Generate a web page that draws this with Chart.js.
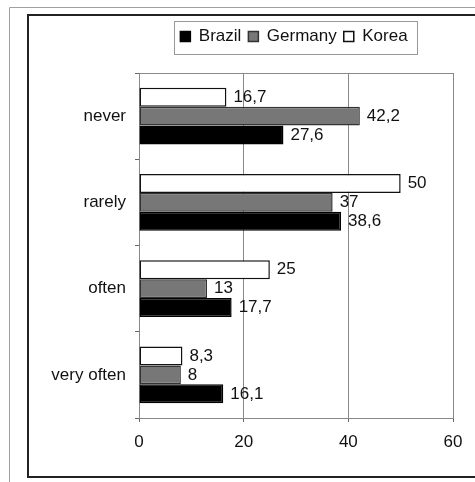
<!DOCTYPE html>
<html>
<head>
<meta charset="utf-8">
<script src="https://cdn.jsdelivr.net/npm/chart.js@4.4.0/dist/chart.umd.min.js"></script>
<style>
  html, body { margin: 0; padding: 0; background: #fff; }
  canvas { display: block; }
</style>
</head>
<body>
<canvas id="myChart" width="475" height="482"></canvas>
<script>
// data
const categories = ['never', 'rarely', 'often', 'very often'];
const brazil  = [27.6, 38.6, 17.7, 16.1];
const germany = [42.2, 37, 13, 8];
const korea   = [16.7, 50, 25, 8.3];
const xTicks  = [0, 20, 40, 60];

Chart.defaults.font.family = "'Liberation Sans', Arial, sans-serif";
Chart.defaults.font.size = 17;
Chart.defaults.color = '#111';

const fmt = v => String(v).replace('.', ',');

// frames around the whole figure
const framePlugin = {
  id: 'frame',
  beforeDraw(chart) {
    const c = chart.ctx;
    c.save();
    c.fillStyle = '#fff';
    c.fillRect(0, 0, chart.width, chart.height);
    c.strokeStyle = '#a0a0a0';
    c.lineWidth = 1;
    c.beginPath();
    c.moveTo(9.5, chart.height); c.lineTo(9.5, 7.5); c.lineTo(chart.width, 7.5);
    c.stroke();
    c.strokeStyle = '#222';
    c.lineWidth = 2;
    c.beginPath();
    c.moveTo(chart.width, 15); c.lineTo(28, 15); c.lineTo(28, 477); c.lineTo(chart.width, 477);
    c.stroke();
    c.restore();
  },
  beforeDatasetsDraw(chart) {
    const a = chart.chartArea, c = chart.ctx;
    c.save();
    c.strokeStyle = '#888';
    c.lineWidth = 1;
    c.strokeRect(Math.round(a.left) + 0.5, Math.round(a.top) + 0.5, a.right - a.left, a.bottom - a.top);
    c.restore();
  }
};

// move legend over the plot and box it
const legendPlugin = {
  id: 'legendBox',
  afterLayout(chart) {
    const lg = chart.legend;
    const h = lg.bottom - lg.top;
    const shift = 294 - (lg.left + lg.right) / 2;
    lg.left += shift; lg.right += shift;
    lg.top = 21; lg.bottom = 21 + h;
  },
  afterDraw(chart) {
    const lg = chart.legend, c = chart.ctx;
    const pad = lg.options.labels.padding;
    const lw = lg.lineWidths[0];
    const start = (lg.left + pad + lg.right - lw) / 2;
    c.save();
    c.strokeStyle = '#999';
    c.lineWidth = 1;
    c.strokeRect(Math.round(start - 6) + 0.5, 21.5, Math.round(lw + 9), 33);
    c.restore();
  }
};

// value labels at bar ends
const valueLabels = {
  id: 'valueLabels',
  afterDatasetsDraw(chart) {
    const c = chart.ctx;
    c.save();
    c.font = "17px 'Liberation Sans', Arial, sans-serif";
    c.fillStyle = '#111';
    c.textAlign = 'left';
    c.textBaseline = 'middle';
    chart.data.datasets.forEach((ds, i) => {
      chart.getDatasetMeta(i).data.forEach((bar, j) => {
        c.fillText(fmt(ds.data[j]), bar.x + 7, bar.y);
      });
    });
    c.restore();
  }
};

new Chart(document.getElementById('myChart'), {
  type: 'bar',
  data: {
    labels: categories,
    datasets: [
      { label: 'Korea', data: korea, backgroundColor: '#ffffff', borderColor: '#111', borderWidth: 1.5, borderSkipped: false },
      { label: 'Germany', data: germany, backgroundColor: '#777777', borderColor: '#333', borderWidth: 1.5, borderSkipped: false },
      { label: 'Brazil', data: brazil, backgroundColor: '#000000', borderColor: '#000', borderWidth: 1.5, borderSkipped: false }
    ]
  },
  options: {
    indexAxis: 'y',
    responsive: false,
    animation: false,
    categoryPercentage: 0.66,
    barPercentage: 1,
    layout: { padding: { left: 0, right: 22, top: 39, bottom: 0 } },
    plugins: {
      tooltip: { enabled: false },
      legend: {
        position: 'top',
        reverse: true,
        labels: { boxWidth: 10, boxHeight: 10, padding: 7, color: '#111', font: { size: 17 } }
      }
    },
    scales: {
      x: {
        min: 0, max: 60,
        afterBuildTicks: s => { s.ticks = xTicks.map(v => ({ value: v })); },
        afterFit: s => { s.height = 64; },
        grid: { color: '#888', tickColor: '#666', tickLength: 4, lineWidth: 1 },
        border: { color: '#555', width: 1 },
        ticks: { padding: 10, color: '#111', maxRotation: 0 }
      },
      y: {
        afterFit: s => { s.width = 139; },
        grid: { drawOnChartArea: false, tickColor: '#666', tickLength: 4 },
        border: { color: '#333', width: 1 },
        ticks: { padding: 9, color: '#111' }
      }
    }
  },
  plugins: [framePlugin, legendPlugin, valueLabels]
});
</script>
</body>
</html>
